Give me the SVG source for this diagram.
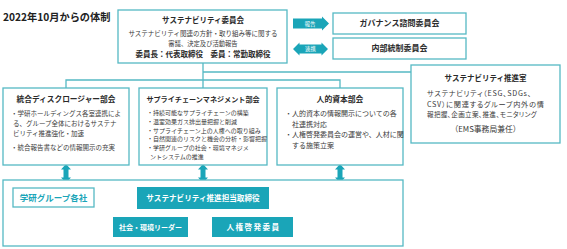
<svg xmlns="http://www.w3.org/2000/svg" width="567" height="249" viewBox="0 0 567 249">
<style>
text{font-family:"Noto Sans CJK JP","Noto Sans",sans-serif;fill:#3a3a3a}
.box{fill:#fff;stroke:#55b9c4;stroke-width:1.3}
.fill{fill:#1aa5b8}
.ttl{font-weight:bold;font-size:7.5px;text-anchor:middle;fill:#2a2a2a}
.c{text-anchor:middle}
.b{font-size:6.5px}
.w{fill:#fff;font-weight:bold;text-anchor:middle}
.ln{stroke:#55b9c4;stroke-width:1.3;fill:none}
.p{font-feature-settings:"palt";letter-spacing:0.7px}
</style>
<defs>
<path id="dbl" class="fill" d="M0,0 L5,5.5 L2.5,5.5 L2.5,13.5 L5,13.5 L0,19 L-5,13.5 L-2.5,13.5 L-2.5,5.5 L-5,5.5 Z"/>
</defs>
<text x="3" y="21" style="font-size:10.2px;font-weight:bold;fill:#222">2022年10月からの体制</text>

<g id="connectors">
<path class="ln" d="M203,63 V88 M203,72 H411 M66,88 V80 H340 V88"/>
<path class="fill" d="M293,18.5 H322 V16.5 L329,23.5 L322,30.5 V28.5 H293 Z"/>
<text x="310" y="25.5" class="w" style="font-size:5.5px;font-weight:normal">報告</text>
<path class="fill" d="M293,49 L299.5,42.5 V44.5 H321.5 V42.5 L328,49 L321.5,55.5 V53.5 H299.5 V55.5 Z"/>
<text x="310.5" y="51" class="w" style="font-size:5.5px;font-weight:normal">連携</text>
<use href="#dbl" x="66" y="164"/>
<use href="#dbl" x="203" y="164"/>
<use href="#dbl" x="340" y="164"/>
<path class="ln" d="M167,209 V217 M239,209 V217"/>
</g>

<g id="committee">
<rect class="box" x="118" y="10" width="169" height="53"/>
<text x="203" y="23" class="ttl">サステナビリティ委員会</text>
<text x="203" y="35.5" class="c" style="font-size:6.5px">サステナビリティ関連の方針・取り組み等に関する</text>
<text x="203" y="45.5" class="c" style="font-size:6.3px">審議、決定及び活動報告</text>
<text x="203" y="57" class="ttl">委員長：代表取締役　委員：常勤取締役</text>
</g>

<g id="governance">
<rect class="box" x="333" y="13" width="133" height="21"/>
<text x="399.5" y="26.3" class="ttl" style="font-size:8px">ガバナンス諮問委員会</text>
</g>

<g id="internal">
<rect class="box" x="333" y="38" width="133" height="21"/>
<text x="399.5" y="51.3" class="ttl" style="font-size:8px">内部統制委員会</text>
</g>

<g id="office">
<rect class="box" x="411" y="65" width="149" height="78"/>
<text x="485.5" y="81" class="ttl">サステナビリティ推進室</text>
<text x="427" y="95.5" class="p" style="font-size:7.2px">サステナビリティ（ESG、SDGs、</text>
<text x="427" y="106.5" class="p" style="font-size:7.2px">CSV）に関連するグループ内外の情</text>
<text x="427" y="116.5" class="p" style="font-size:6.6px;letter-spacing:0.3px">報把握、企画立案、推進、モニタリング</text>
<text x="485.5" y="132" class="c" style="font-size:7.8px">（EMS事務局兼任）</text>
</g>

<g id="disclosure">
<rect class="box" x="3" y="88" width="126" height="77"/>
<text x="66" y="102" class="ttl" style="font-size:7.7px">統合ディスクロージャー部会</text>
<text x="11" y="115.5" class="b">・学研ホールディングス各室連携によ</text>
<text x="13" y="125.5" class="b">る、グループ全体におけるサステナ</text>
<text x="13" y="135.5" class="b">ビリティ推進強化・加速</text>
<text x="11" y="149.5" class="b">・統合報告書などの情報開示の充実</text>
</g>

<g id="supplychain">
<rect class="box" x="139" y="88" width="128" height="77"/>
<text x="203" y="101.5" class="ttl" style="font-size:7.1px">サプライチェーンマネジメント部会</text>
<text x="147" y="115.2" style="font-size:6px">・持続可能なサプライチェーンの構築</text>
<text x="147" y="124" style="font-size:6px">・温室効果ガス排出量把握と削減</text>
<text x="147" y="132.6" style="font-size:6px">・サプライチェーン上の人権への取り組み</text>
<text x="147" y="141.3" style="font-size:6px">・自然関連のリスクと機会の分析・影響把握</text>
<text x="147" y="150" style="font-size:6px">・学研グループの社会・環境マネジメ</text>
<text x="150" y="158.6" style="font-size:6px">ントシステムの推進</text>
</g>

<g id="humancapital">
<rect class="box" x="277" y="88" width="126" height="77"/>
<text x="340" y="101.5" class="ttl" style="font-size:7.8px">人的資本部会</text>
<text x="285" y="115.5" style="font-size:7px">・人的資本の情報開示についての各</text>
<text x="292" y="126.5" style="font-size:7px">社連携対応</text>
<text x="285" y="137" style="font-size:7px">・人権啓発委員会の運営や、人材に関</text>
<text x="292" y="148" style="font-size:7px">する施策立案</text>
</g>

<g id="group-companies">
<rect class="box" x="3" y="180" width="400" height="66"/>
<rect class="box" x="13" y="188" width="81" height="19"/>
<text x="53.5" y="200.7" class="c" style="font-size:8.5px;font-weight:bold;fill:#1aa5b8">学研グループ各社</text>
</g>

<g id="director">
<rect class="fill" x="137" y="187" width="132" height="22"/>
<text x="203" y="200.8" class="w" style="font-size:7.6px">サステナビリティ推進担当取締役</text>
</g>

<g id="leader">
<rect class="fill" x="113" y="217" width="75" height="20"/>
<text x="150.5" y="229.6" class="w" style="font-size:7px">社会・環境リーダー</text>
</g>

<g id="hr-committee">
<rect class="fill" x="212" y="217" width="81" height="20"/>
<text x="253.5" y="229.8" class="w" style="font-size:7.6px;letter-spacing:1.4px">人権啓発委員</text>
</g>
</svg>
